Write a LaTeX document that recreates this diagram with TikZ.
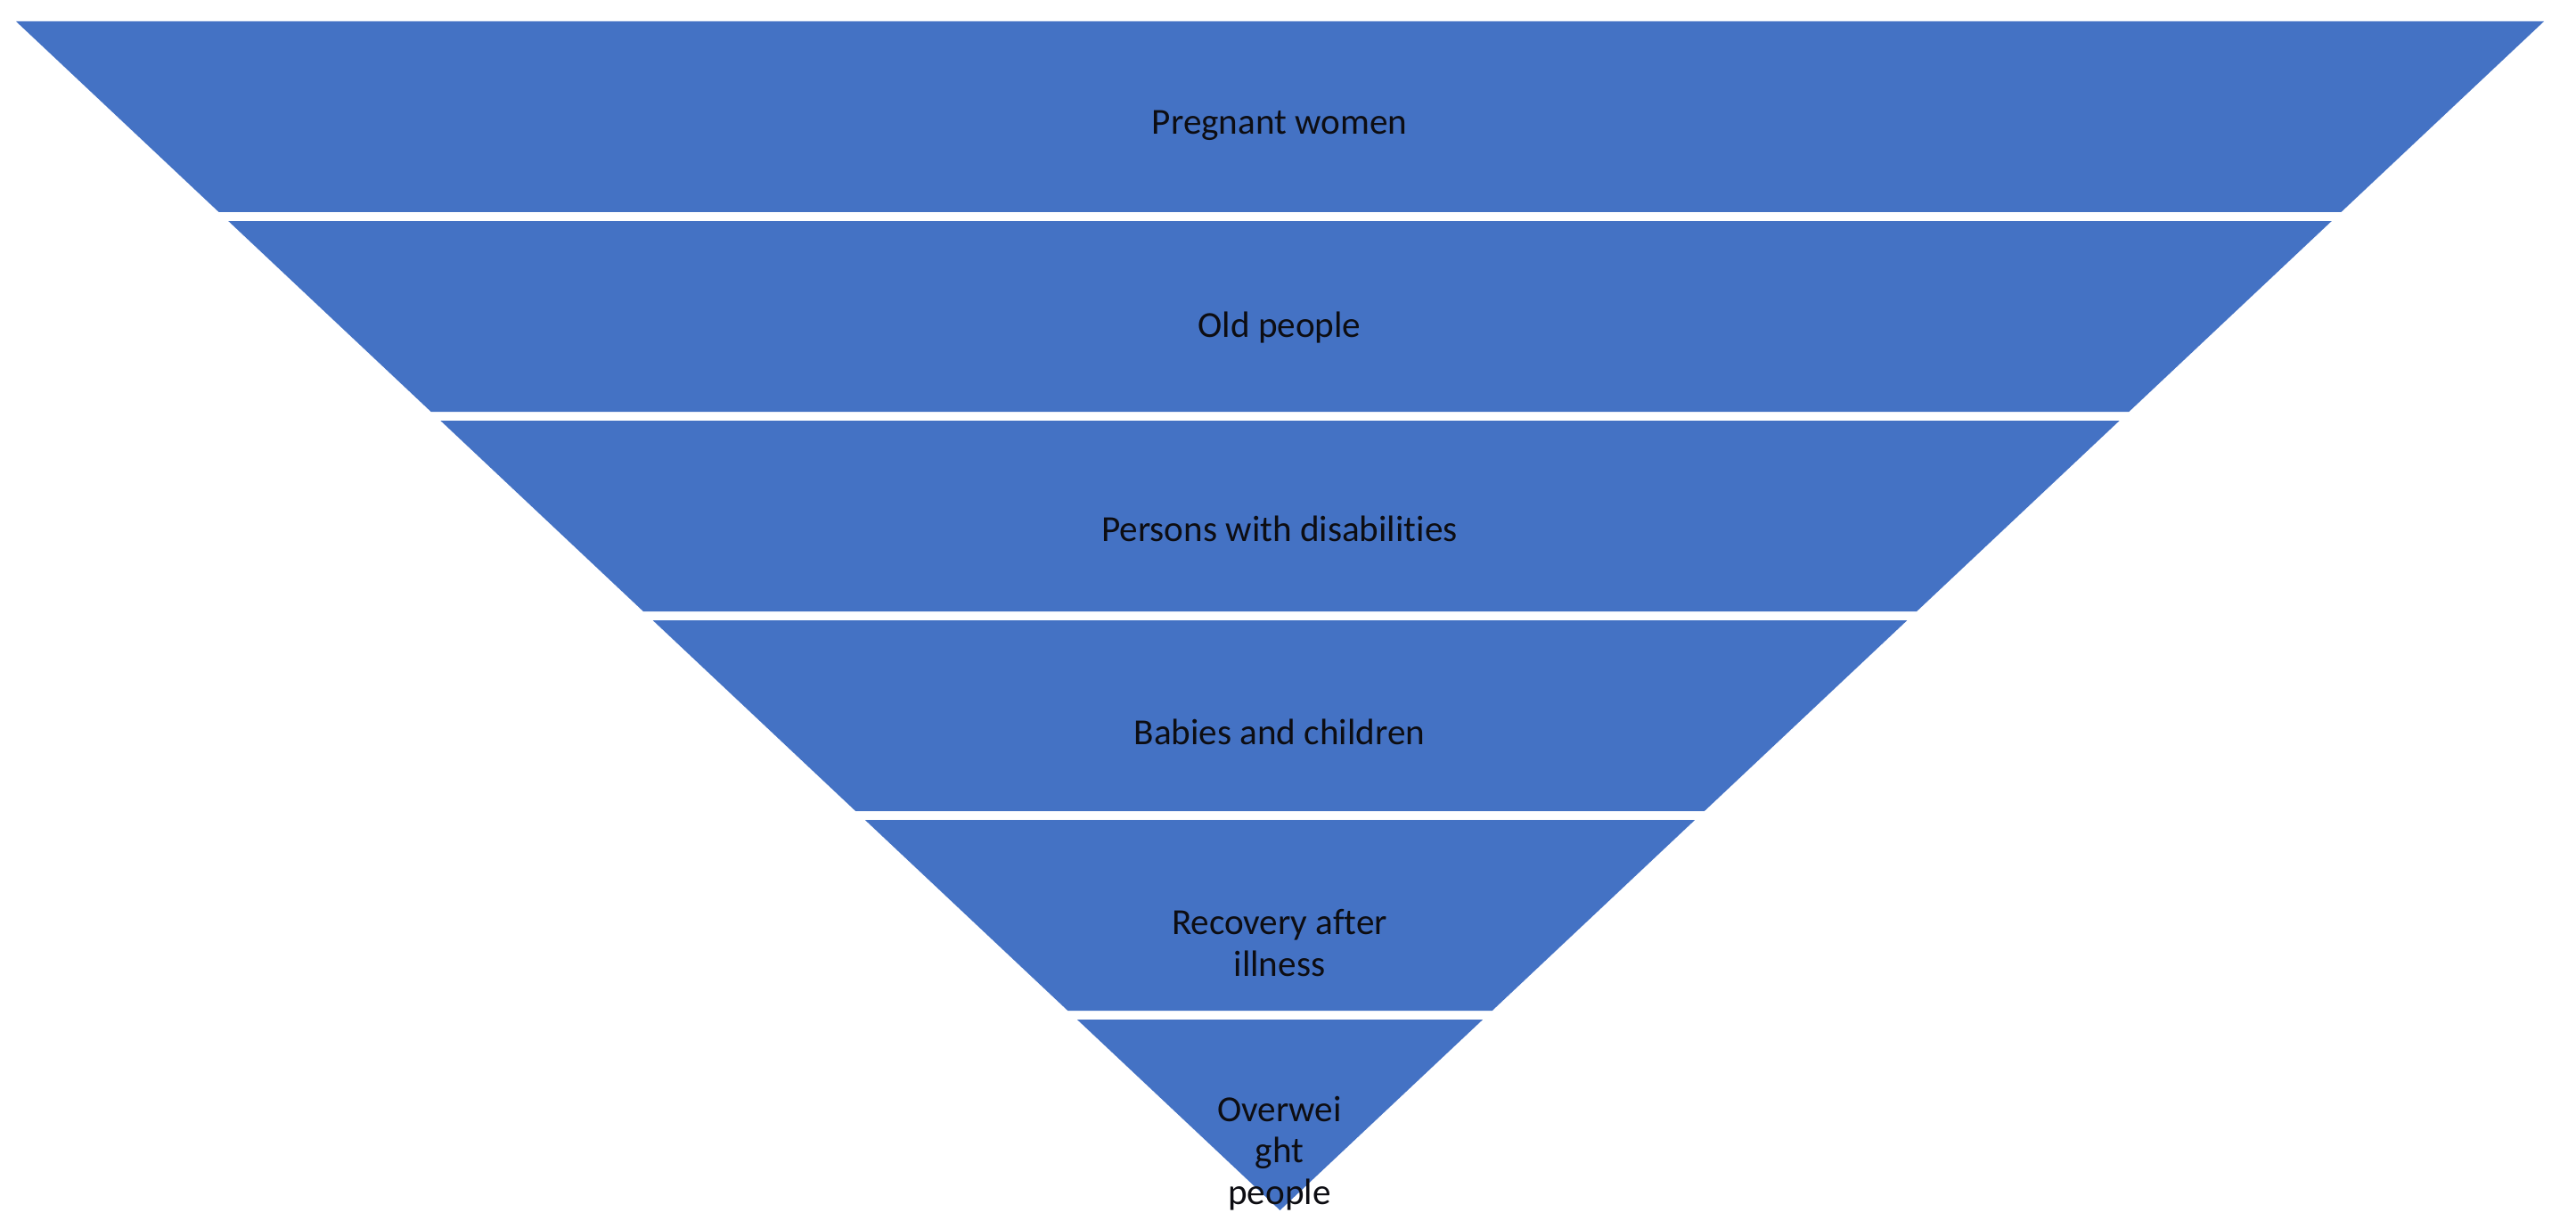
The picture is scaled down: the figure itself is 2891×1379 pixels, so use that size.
\documentclass[tikz,border=0pt]{standalone}
\usepackage{fontspec}
\setmainfont{Carlito}[Ligatures=NoCommon]
\definecolor{bandblue}{HTML}{4472C4}
\definecolor{labelink}{HTML}{0D0D12}
\begin{document}
\begin{tikzpicture}[x=0.01cm, y=-0.01cm,
    band/.style={fill=bandblue},
    lbl/.style={text=labelink, anchor=base, align=center, inner sep=0pt,
        font=\fontsize{11.7}{13.2}\selectfont}]
    \useasboundingbox (0, 0) rectangle (2891, 1379);

    \coordinate (T1l) at (18, 24);
    \coordinate (T1r) at (2855, 24);
    \coordinate (B1l) at (245.6, 238);
    \coordinate (B1r) at (2627.4, 238);
    \coordinate (T2l) at (256.2, 248);
    \coordinate (T2r) at (2616.8, 248);
    \coordinate (B2l) at (483.7, 462);
    \coordinate (B2r) at (2389.3, 462);
    \coordinate (T3l) at (494.4, 472);
    \coordinate (T3r) at (2378.6, 472);
    \coordinate (B3l) at (721.9, 686);
    \coordinate (B3r) at (2151.1, 686);
    \coordinate (T4l) at (732.6, 696);
    \coordinate (T4r) at (2140.4, 696);
    \coordinate (B4l) at (960.1, 910);
    \coordinate (B4r) at (1912.9, 910);
    \coordinate (T5l) at (970.8, 920);
    \coordinate (T5r) at (1902.2, 920);
    \coordinate (B5l) at (1198.3, 1134);
    \coordinate (B5r) at (1674.7, 1134);
    \coordinate (T6l) at (1208.9, 1144);
    \coordinate (T6r) at (1664.1, 1144);
    \coordinate (tip) at (1436.5, 1358);

    \foreach \n in {1, 2, 3, 4, 5}
    \fill[band] (T\n l) -- (T\n r) -- (B\n r) -- (B\n l) -- cycle;
    \fill[band] (T6l) -- (T6r) -- (tip) -- cycle;

    \node[lbl] (pregnant) at (1436, 151) {Pregnant women};
    \node[lbl] (old) at (1436, 378) {Old people};
    \node[lbl] (disabled) at (1436, 607) {Persons with disabilities};
    \node[lbl] (babies) at (1436, 835) {Babies and children};
    \node[lbl] (recovery) at (1436, 1095) {Recovery after\\illness};
    \node[lbl] (overweight) at (1436, 1351) {Overwei\\ght\\people};
\end{tikzpicture}
\end{document}
